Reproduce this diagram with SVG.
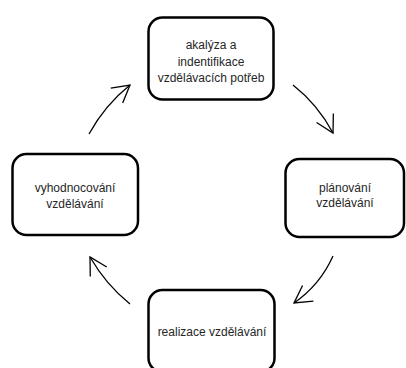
<svg xmlns="http://www.w3.org/2000/svg" width="406" height="368" viewBox="0 0 406 368">
  <defs>
    <style>
      .box { fill: #ffffff; stroke: #000000; stroke-width: 2.5; }
      .lbl { font-family: "Liberation Sans", Arial, sans-serif; font-size: 12px; fill: #262626; text-anchor: middle; }
      .conn { fill: none; stroke: #000000; stroke-width: 1.3; marker-end: url(#head); }
    </style>
    <marker id="head" markerUnits="userSpaceOnUse" viewBox="-20 -11 22 22" refX="0" refY="0" markerWidth="22" markerHeight="22" orient="auto">
      <path d="M -17 -9.5 L 0 0 L -17 9.5" fill="none" stroke="#000000" stroke-width="1.3"/>
    </marker>
  </defs>
  <rect width="406" height="368" fill="#ffffff"/>

  <g id="node-analyza">
    <rect class="box" x="148.5" y="17.5" width="125" height="82" rx="14" ry="14"/>
    <text class="lbl" x="211" y="49">akalýza a</text>
    <text class="lbl" x="211" y="66">indentifikace</text>
    <text class="lbl" x="211" y="82">vzdělávacích potřeb</text>
  </g>

  <g id="node-planovani">
    <rect class="box" x="285.5" y="159" width="118.5" height="78" rx="14" ry="14"/>
    <text class="lbl" x="345" y="192">plánování</text>
    <text class="lbl" x="345" y="207">vzdělávání</text>
  </g>

  <g id="node-realizace">
    <rect class="box" x="148.5" y="290" width="126" height="82" rx="14" ry="14"/>
    <text class="lbl" x="212" y="336">realizace vzdělávání</text>
  </g>

  <g id="node-vyhodnocovani">
    <rect class="box" x="12.5" y="154" width="125.5" height="81" rx="14" ry="14"/>
    <text class="lbl" x="75" y="192">vyhodnocování</text>
    <text class="lbl" x="75" y="208">vzdělávání</text>
  </g>

  <g id="connectors">
    <path class="conn" d="M 293 85 Q 317.7 104.4 333 133"/>
    <path class="conn" d="M 333 256 Q 320 285 294 303"/>
    <path class="conn" d="M 130 304 Q 106 284.7 90 257"/>
    <path class="conn" d="M 89 134 Q 105 105 130 85"/>
  </g>
</svg>
